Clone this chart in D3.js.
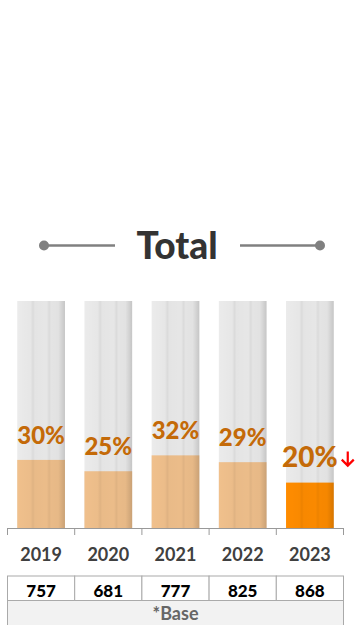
<!DOCTYPE html>
<html>
<head>
<meta charset="utf-8">
<script src="https://cdn.jsdelivr.net/npm/d3@7"></script>
<style>
  body { margin: 0; background: #fff; }
  svg { display: block; font-family: Lato, "Open Sans", sans-serif; }
</style>
</head>
<body>
<svg id="chart" width="360" height="625"></svg>
<script>
// data
var years = ["2019", "2020", "2021", "2022", "2023"];
var shares = [30, 25, 32, 29, 20];
var bases = [757, 681, 777, 825, 868];
var highlight = "2023";

var svg = d3.select("#chart");

// title with the two dotted rules
var title = svg.append("g");
title.append("line")
    .attr("x1", 44).attr("x2", 115).attr("y1", 245.5).attr("y2", 245.5)
    .attr("stroke", "#808080").attr("stroke-width", 2.5);
title.append("circle").attr("cx", 44).attr("cy", 245.5).attr("r", 5).attr("fill", "#808080");
title.append("line")
    .attr("x1", 240).attr("x2", 320).attr("y1", 245.5).attr("y2", 245.5)
    .attr("stroke", "#808080").attr("stroke-width", 2.5);
title.append("circle").attr("cx", 320).attr("cy", 245.5).attr("r", 5).attr("fill", "#808080");
title.append("text")
    .attr("x", 177).attr("y", 259)
    .attr("text-anchor", "middle")
    .attr("font-size", 37).attr("font-weight", "900")
    .attr("fill", "#333")
    .text("Total");

var x = d3.scaleBand().domain(years).range([7.5, 343.5]).paddingInner(0.29).paddingOuter(0.145);
var band = d3.scaleBand().domain(years).range([7.5, 343.5]);
var y = d3.scaleLinear().domain([0, 100]).range([528, 301]);

// cylinder shading as an overlay gradient
var defs = svg.append("defs");
var grad = defs.append("linearGradient").attr("id", "shade").attr("x1", "0").attr("x2", "1").attr("y1", "0").attr("y2", "0");
[[0, 0], [0.28, 0.02], [0.33, 0.07], [0.37, 0.03], [0.62, 0.02], [0.67, 0.07], [0.71, 0.03], [0.86, 0.04], [1, 0.16]]
    .forEach(function (s) {
        grad.append("stop").attr("offset", s[0]).attr("stop-color", "#000").attr("stop-opacity", s[1]);
    });

var bars = svg.append("g").selectAll("g")
    .data(years)
    .enter()
    .append("g");

bars.append("rect")
    .attr("x", function (d) { return x(d); })
    .attr("y", y(100))
    .attr("width", x.bandwidth())
    .attr("height", y(0) - y(100))
    .attr("fill", "#ebebeb");

bars.append("rect")
    .attr("x", function (d) { return x(d); })
    .attr("y", function (d, i) { return y(shares[i]); })
    .attr("width", x.bandwidth())
    .attr("height", function (d, i) { return y(0) - y(shares[i]); })
    .attr("fill", function (d) { return d === highlight ? "#ff8c00" : "#f0c08c"; });

bars.append("rect")
    .attr("x", function (d) { return x(d); })
    .attr("y", y(100))
    .attr("width", x.bandwidth())
    .attr("height", y(0) - y(100))
    .attr("fill", "url(#shade)");

bars.append("text")
    .attr("x", function (d) { return x(d) + x.bandwidth() / 2; })
    .attr("y", function (d, i) { return y(shares[i]) - 16; })
    .attr("text-anchor", "middle")
    .attr("font-weight", "900")
    .attr("font-size", function (d) { return d === highlight ? 28 : 24; })
    .attr("fill", "#c46a08")
    .text(function (d, i) { return shares[i] + "%"; });

// down arrow next to the highlighted value
var hi = years.indexOf(highlight);
var ax = x(highlight) + x.bandwidth() + 14, ay = y(shares[hi]) - 31;
svg.append("path")
    .attr("d", "M" + ax + "," + ay + "V" + (ay + 14) + "M" + (ax - 6) + "," + (ay + 8) + "L" + ax + "," + (ay + 14) + "L" + (ax + 6) + "," + (ay + 8))
    .attr("fill", "none").attr("stroke", "#ff0000").attr("stroke-width", 2.2);

// axis
var axis = svg.append("g")
    .attr("transform", "translate(0," + y(0) + ")")
    .call(d3.axisBottom(x).tickSize(0).tickFormat(""));
axis.select(".domain").attr("stroke", "#999").attr("d", "M7.5,0.5H343.5");
axis.selectAll(".tick").remove();
axis.selectAll(".sep")
    .data(years.concat(["end"]))
    .enter()
    .append("line")
    .attr("x1", function (d, i) { return i < years.length ? band(d) : band.range()[1]; })
    .attr("x2", function (d, i) { return i < years.length ? band(d) : band.range()[1]; })
    .attr("y1", 0).attr("y2", 7)
    .attr("stroke", "#999");

svg.append("g").selectAll("text")
    .data(years)
    .enter()
    .append("text")
    .attr("x", function (d) { return band(d) + band.bandwidth() / 2; })
    .attr("y", 561)
    .attr("text-anchor", "middle")
    .attr("font-size", 18).attr("font-weight", "bold")
    .attr("fill", "#404040")
    .text(function (d) { return d; });

// base table
var table = svg.append("g");
table.append("rect")
    .attr("x", 7.5).attr("y", 600.5).attr("width", 336).attr("height", 30)
    .attr("fill", "#f2f2f2").attr("stroke", "#aaa");
table.selectAll(".cell")
    .data(years)
    .enter()
    .append("rect")
    .attr("x", function (d) { return band(d); })
    .attr("y", 576)
    .attr("width", band.bandwidth())
    .attr("height", 24.5)
    .attr("fill", "#fff").attr("stroke", "#aaa");
table.selectAll(".num")
    .data(years)
    .enter()
    .append("text")
    .attr("x", function (d) { return band(d) + band.bandwidth() / 2; })
    .attr("y", 596.5)
    .attr("text-anchor", "middle")
    .attr("font-size", 17).attr("font-weight", "900")
    .attr("fill", "#000")
    .text(function (d, i) { return bases[i]; });
table.append("text")
    .attr("x", 175.5).attr("y", 619.5)
    .attr("text-anchor", "middle")
    .attr("font-size", 18).attr("font-weight", "bold")
    .attr("fill", "#666")
    .text("*Base");
</script>
</body>
</html>
